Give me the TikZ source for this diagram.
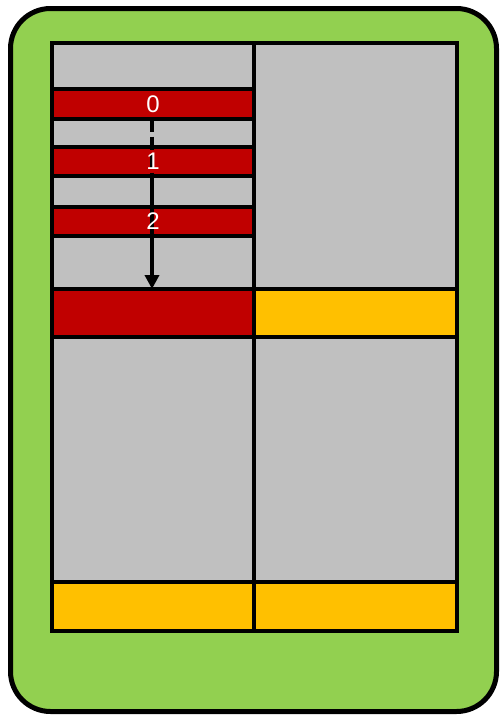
\documentclass[tikz,border=0pt]{standalone}
\usepackage{fontspec}
\setmainfont{Liberation Sans}
\usetikzlibrary{arrows.meta}
\definecolor{bggreen}{HTML}{92D050}
\definecolor{cellgray}{HTML}{C0C0C0}
\definecolor{cellred}{HTML}{C00000}
\definecolor{cellyellow}{HTML}{FFC000}
\tikzset{
  cell/.style={draw=black, line width=4pt, rectangle, inner sep=0pt, outer sep=0pt, anchor=north west},
  lbl/.style={text=white, font=\fontsize{24}{24}\selectfont, inner sep=0pt},
  flow/.style={line width=3.8pt, draw=black}
}
\newcommand{\mkcell}[6]{%
  \pgfmathsetmacro{\cw}{#4-#2}\pgfmathsetmacro{\ch}{#5-#3}%
  \node[cell, fill=#6, minimum width=\cw pt, minimum height=\ch pt] (#1) at (#2,#3) {};}
\begin{document}
\begin{tikzpicture}[x=1pt,y=-1pt]
\useasboundingbox (0,0) rectangle (500,715);
\draw[fill=bggreen, line width=5pt, rounded corners=40pt] (10.5,8.5) rectangle (496.5,711.5);
\mkcell{gtl}{52}{43}{254}{289}{cellgray}
\mkcell{gtr}{254}{43}{457}{289}{cellgray}
\mkcell{r0}{52}{89}{254}{118.5}{cellred}
\mkcell{r1}{52}{146.5}{254}{176}{cellred}
\mkcell{r2}{52}{206.5}{254}{236}{cellred}
\mkcell{rb}{52}{289}{254}{337}{cellred}
\mkcell{yr}{254}{289}{457}{337}{cellyellow}
\mkcell{gml}{52}{337}{254}{582}{cellgray}
\mkcell{gmr}{254}{337}{457}{582}{cellgray}
\mkcell{ybl}{52}{582}{254}{631}{cellyellow}
\mkcell{ybr}{254}{582}{457}{631}{cellyellow}
\coordinate (a0) at ([xshift=-1pt]r0.south);
\coordinate (a1) at ([xshift=-1pt]r1.south);
\coordinate (a2) at ([xshift=-1pt]rb.north);
\draw[flow, dash pattern=on 13pt off 5pt] (a0) -- (a1);
\draw[flow, -{Triangle[width=14pt,length=14pt]}] (a1) -- (a2);
\node[lbl] (l0) at (r0.center) {0};
\node[lbl] (l1) at (r1.center) {1};
\node[lbl] (l2) at (r2.center) {2};
\end{tikzpicture}
\end{document}
